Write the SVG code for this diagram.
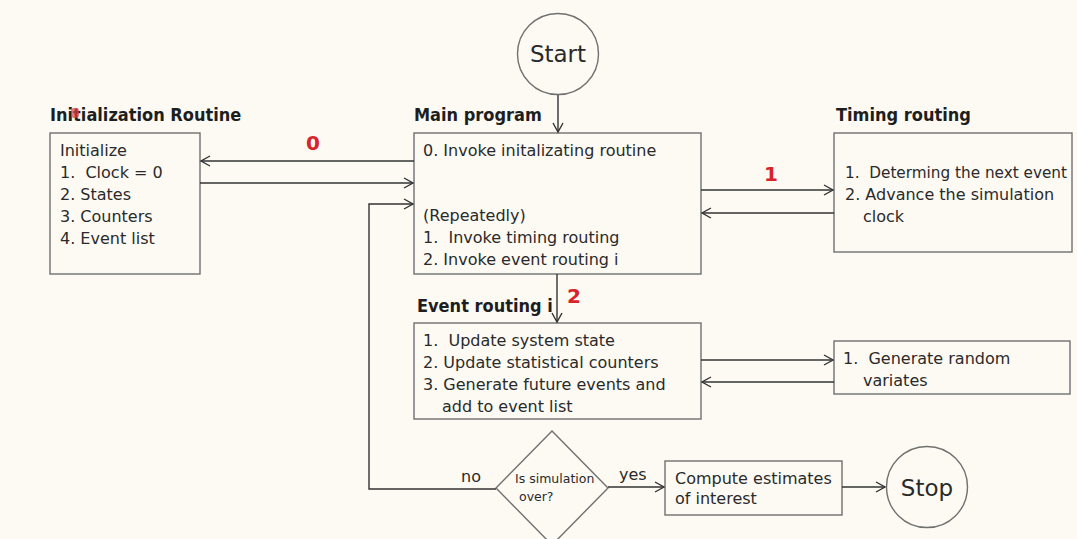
<svg xmlns="http://www.w3.org/2000/svg" width="1077" height="539" viewBox="0 0 1077 539">
<defs>
<marker id="arr" markerUnits="userSpaceOnUse" markerWidth="12" markerHeight="12" refX="10" refY="6" orient="auto">
<path d="M1,1 L10,6 L1,11" fill="none" stroke="#333" stroke-width="1.4"/>
</marker>
<style>
.box{fill:none;stroke:#707070;stroke-width:1.4}
.t{font-family:"DejaVu Sans",sans-serif;font-size:16px;fill:#2a2a2a}
.h{font-family:"DejaVu Sans Condensed","DejaVu Sans",sans-serif;font-stretch:condensed;font-weight:bold;font-size:18px;fill:#1e1e1e}
.red{font-family:"DejaVu Sans",sans-serif;font-weight:bold;font-size:20px;fill:#d8232a;text-anchor:middle}
.c{fill:none;stroke:#333;stroke-width:1.4;marker-end:url(#arr)}
</style>
</defs>
<rect width="1077" height="539" fill="#fcfaf3"/>

<g id="start">
<circle cx="558" cy="54" r="40.5" class="box"/>
<text x="558" y="62" class="t" style="font-size:23px" text-anchor="middle">Start</text>
</g>

<g id="init">
<text x="50" y="121" class="h">Initialization Routine</text>
<rect x="71" y="108" width="8" height="10" rx="3" fill="#e0404a" opacity="0.7"/>
<rect x="50" y="133" width="150" height="141" class="box"/>
<text class="t" x="60" y="156">Initialize</text>
<text class="t" x="60" y="178" xml:space="preserve">1.  Clock = 0</text>
<text class="t" x="60" y="200">2. States</text>
<text class="t" x="60" y="222">3. Counters</text>
<text class="t" x="60" y="244">4. Event list</text>
</g>

<g id="main">
<text x="414" y="121" class="h">Main program</text>
<rect x="414" y="133" width="287" height="141" class="box"/>
<text class="t" x="423" y="156">0. Invoke initalizating routine</text>
<text class="t" x="423" y="221">(Repeatedly)</text>
<text class="t" x="423" y="243" xml:space="preserve">1.  Invoke timing routing</text>
<text class="t" x="423" y="265">2. Invoke event routing i</text>
</g>

<g id="timing">
<text x="836" y="121" class="h">Timing routing</text>
<rect x="834" y="133" width="238" height="119" class="box"/>
<text class="t" x="845" y="178" xml:space="preserve" textLength="222" lengthAdjust="spacingAndGlyphs">1.  Determing the next event</text>
<text class="t" x="845" y="200">2. Advance the simulation</text>
<text class="t" x="863" y="222">clock</text>
</g>

<g id="event">
<text x="417" y="312" class="h">Event routing i</text>
<rect x="414" y="323" width="287" height="96" class="box"/>
<text class="t" x="423" y="346" xml:space="preserve">1.  Update system state</text>
<text class="t" x="423" y="368">2. Update statistical counters</text>
<text class="t" x="423" y="390">3. Generate future events and</text>
<text class="t" x="442" y="412">add to event list</text>
</g>

<g id="random">
<rect x="834" y="341" width="236" height="53" class="box"/>
<text class="t" x="843" y="364" xml:space="preserve">1.  Generate random</text>
<text class="t" x="863" y="386">variates</text>
</g>

<g id="decision">
<polygon points="552,431 608,488 552,545 496,488" class="box"/>
<text class="t" x="515" y="483" style="font-size:12.5px">Is simulation</text>
<text class="t" x="519" y="501" style="font-size:12.5px">over?</text>
</g>

<g id="compute">
<rect x="665" y="461" width="177" height="54" class="box"/>
<text class="t" x="675" y="484">Compute estimates</text>
<text class="t" x="675" y="504">of interest</text>
</g>

<g id="stop">
<circle cx="927" cy="487" r="40.5" class="box"/>
<text x="927" y="496" class="t" style="font-size:23px" text-anchor="middle">Stop</text>
</g>

<g id="connectors">
<path d="M558,95 V132" class="c"/>
<path d="M414,161 H201" class="c"/>
<path d="M200,183 H413" class="c"/>
<path d="M701,190 H833" class="c"/>
<path d="M834,213 H702" class="c"/>
<path d="M557,274 V322" class="c"/>
<path d="M701,360 H833" class="c"/>
<path d="M834,382 H702" class="c"/>
<path d="M496,489 H369 V204 H413" class="c"/>
<path d="M608,487 H664" class="c"/>
<path d="M842,487 H885" class="c"/>
<text x="313" y="150" class="red">0</text>
<text x="771" y="181" class="red">1</text>
<text x="574" y="303" class="red">2</text>
<text x="461" y="482" class="t">no</text>
<text x="619" y="480" class="t">yes</text>
</g>
</svg>
